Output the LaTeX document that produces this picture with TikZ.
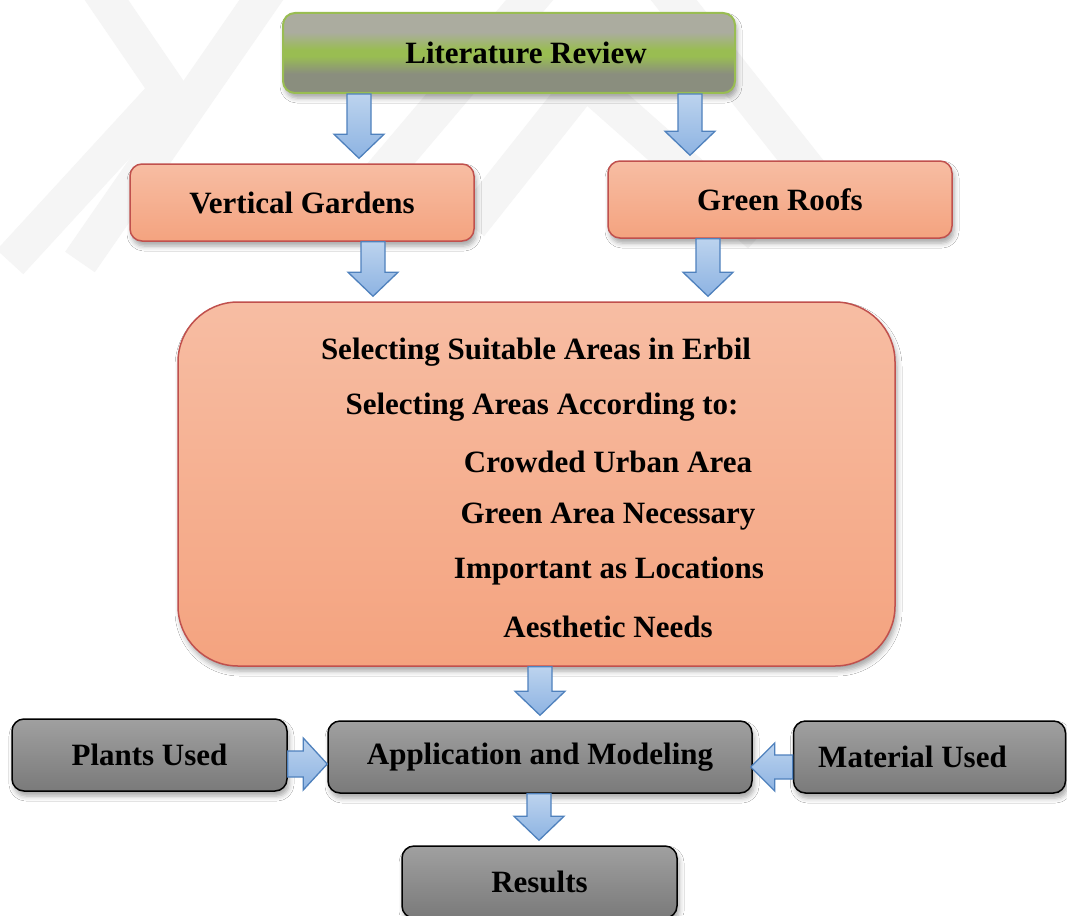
\documentclass[tikz,border=0pt]{standalone}
\usepackage{fontspec}
\setmainfont{Liberation Serif}
\usetikzlibrary{calc,shadows.blur}

\definecolor{litmid}{HTML}{99BD52}
\definecolor{littop}{HTML}{ABAC9F}
\definecolor{litbot}{HTML}{8A8E7E}
\definecolor{salmontop}{HTML}{F7BDA3}
\definecolor{salmonbot}{HTML}{F4A37F}
\definecolor{salmonline}{HTML}{C0504D}
\definecolor{greytop}{HTML}{A0A0A0}
\definecolor{greybot}{HTML}{7A7A7A}
\definecolor{arrowtop}{HTML}{BCD3EE}
\definecolor{arrowbot}{HTML}{8DB3E2}
\definecolor{arrowline}{HTML}{4F81BD}

% grey - green - grey, squeezed for the wide, flat top box
\pgfdeclareverticalshading{litshade}{100bp}{color(0bp)=(litbot); color(37bp)=(litbot);
	color(48bp)=(litmid); color(52bp)=(litmid); color(63bp)=(littop); color(100bp)=(littop)}

\tikzset{
	box/.style={draw, line width=1.5pt, rounded corners=12pt, inner sep=0pt,
		font=\fontsize{31}{36}\selectfont\bfseries,
		blur shadow={shadow xshift=2pt, shadow yshift=-5pt, shadow blur radius=5pt, shadow opacity=35}},
	litbox/.style={box, draw=litmid, line width=2pt, shading=litshade},
	topicbox/.style={box, draw=salmonline, top color=salmontop, bottom color=salmonbot},
	greybox/.style={box, draw=black, top color=greytop, bottom color=greybot},
	line/.style={font=\fontsize{31}{36}\selectfont\bfseries},
	blockarrow/.style={draw=arrowline, line width=1.3pt, line join=miter, top color=arrowtop, bottom color=arrowbot},
	wm/.style={draw=black!4, line width=36pt, line join=miter}
}

% block arrow pointing down: x, from node, to node
\newcommand{\downblock}[3]{%
	\path[blockarrow] let \p1=(#2.south), \p2=(#3.north) in
		(#1pt-12pt,\y1) -- (#1pt+12pt,\y1) -- (#1pt+12pt,\y2+29pt) -- (#1pt+25pt,\y2+29pt)
		-- (#1pt,\y2+5pt) -- (#1pt-25pt,\y2+29pt) -- (#1pt-12pt,\y2+29pt) -- cycle;}
% block arrow pointing right: y, from node, to node
\newcommand{\rightblock}[3]{%
	\path[blockarrow] let \p1=(#2.east), \p2=(#3.west) in
		(\x1,-#1pt+13pt) -- (\x2-24pt,-#1pt+13pt) -- (\x2-24pt,-#1pt+26pt) -- (\x2,-#1pt)
		-- (\x2-24pt,-#1pt-26pt) -- (\x2-24pt,-#1pt-13pt) -- (\x1,-#1pt-13pt) -- cycle;}
% block arrow pointing left: y, from node, to node
\newcommand{\leftblock}[3]{%
	\path[blockarrow] let \p1=(#2.west), \p2=(#3.east) in
		(\x1,-#1pt+12pt) -- (\x2+22pt,-#1pt+12pt) -- (\x2+22pt,-#1pt+24pt) -- (\x2-2pt,-#1pt)
		-- (\x2+22pt,-#1pt-24pt) -- (\x2+22pt,-#1pt-12pt) -- (\x1,-#1pt-12pt) -- cycle;}

\begin{document}
\begin{tikzpicture}[x=1pt, y=-1pt]
	\useasboundingbox[fill=white] (0,0) rectangle (1067,915);

	% faint background chevrons
	\draw[wm] (86,-30) -- (168,90) -- (10,262);
	\draw[wm] (282,-30) -- (80,262);
	\draw[wm] (555,-30) -- (360,200);
	\draw[wm] (470,225) -- (585,80) -- (760,235);
	\draw[wm] (650,-30) -- (820,185);

	\node[litbox, minimum width=452pt, minimum height=80pt] (lit) at (509,53) {\raisebox{-4pt}{\hspace*{34pt}Literature Review}};
	\node[topicbox, minimum width=344pt, minimum height=77pt] (vg) at (302,202.5) {Vertical Gardens};
	\node[topicbox, minimum width=344pt, minimum height=77pt] (gr) at (780,199.5) {Green Roofs};

	\node[topicbox, rounded corners=60pt, minimum width=717pt, minimum height=364pt] (sel) at (536.5,484) {};
	\node[line] (sel1) at (536,352) {Selecting Suitable Areas in Erbil};
	\node[line] (sel2) at (542,407) {Selecting Areas According to:};
	\node[line] (sel3) at (608,462) {Crowded Urban Area};
	\node[line] (sel4) at (608,517) {Green Area Necessary};
	\node[line] (sel5) at (609,571) {Important as Locations};
	\node[line] (sel6) at (608,627) {Aesthetic Needs};

	\node[greybox, minimum width=275pt, minimum height=72pt] (plants) at (149.5,755) {Plants Used};
	\node[greybox, minimum width=424pt, minimum height=72pt] (app) at (540,757) {Application and Modeling};
	\node[greybox, minimum width=272pt, minimum height=72pt] (mat) at (929.5,757) {\hspace*{-34pt}Material Used};
	\node[greybox, minimum width=275pt, minimum height=72pt] (res) at (539.5,882) {Results};

	\downblock{359}{lit}{vg}
	\downblock{690}{lit}{gr}
	\downblock{373}{vg}{sel}
	\downblock{708}{gr}{sel}
	\downblock{540}{sel}{app}
	\downblock{539}{app}{res}
	\rightblock{764}{plants}{app}
	\leftblock{767}{mat}{app}
\end{tikzpicture}
\end{document}
